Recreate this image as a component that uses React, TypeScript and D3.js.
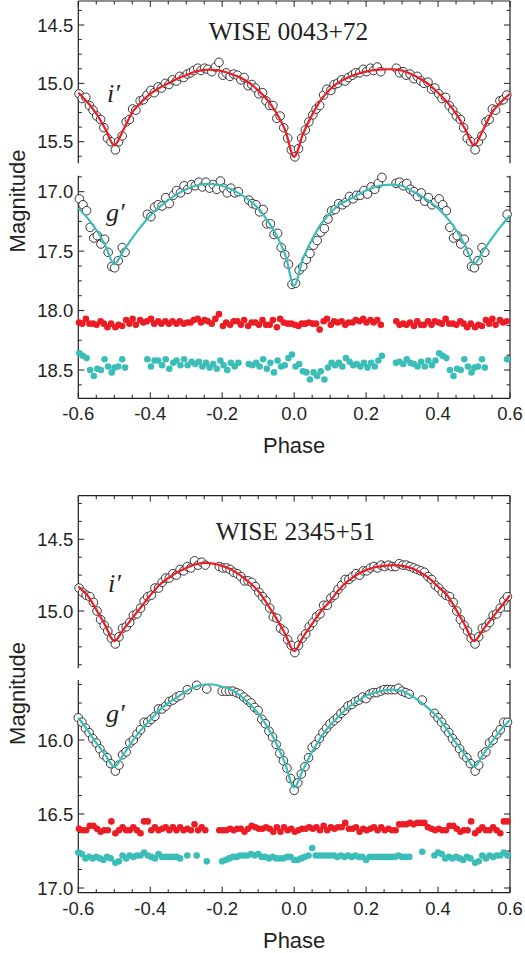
import React from 'react';
import * as d3 from 'd3';

const RED = '#ec1c24';
const TEAL = '#3bbdb8';
const INK = '#231f20';

// ---- fitted light curves, one cycle (phase -0.5 .. 0.475), repeated when drawn
const modelPhase = [-0.5, -0.475, -0.45, -0.425, -0.4, -0.375, -0.35, -0.325, -0.3, -0.275,
  -0.25, -0.225, -0.2, -0.175, -0.15, -0.125, -0.1, -0.075, -0.05, -0.025,
  0, 0.025, 0.05, 0.075, 0.1, 0.125, 0.15, 0.175, 0.2, 0.225,
  0.25, 0.275, 0.3, 0.325, 0.35, 0.375, 0.4, 0.425, 0.45, 0.475];

const fit0043_i = [15.53, 15.40, 15.25, 15.16, 15.09, 15.04, 15.00, 14.96, 14.93, 14.90,
  14.885, 14.885, 14.895, 14.92, 14.95, 14.995, 15.06, 15.14, 15.25, 15.40,
  15.63, 15.43, 15.27, 15.14, 15.05, 14.99, 14.95, 14.92, 14.90, 14.885,
  14.88, 14.88, 14.89, 14.92, 14.96, 15.01, 15.08, 15.16, 15.26, 15.39];
const fit0043_g = [17.61, 17.50, 17.39, 17.29, 17.20, 17.13, 17.07, 17.02, 16.98, 16.95,
  16.935, 16.935, 16.95, 16.98, 17.02, 17.07, 17.14, 17.24, 17.36, 17.53,
  17.79, 17.56, 17.40, 17.27, 17.18, 17.11, 17.07, 17.03, 16.99, 16.96,
  16.945, 16.94, 16.95, 16.99, 17.03, 17.08, 17.14, 17.22, 17.32, 17.45];
const fit2345_i = [15.21, 15.13, 15.05, 14.97, 14.89, 14.82, 14.77, 14.73, 14.70, 14.675,
  14.665, 14.67, 14.685, 14.71, 14.75, 14.80, 14.86, 14.95, 15.05, 15.16,
  15.28, 15.18, 15.09, 15.00, 14.93, 14.85, 14.79, 14.745, 14.715, 14.695,
  14.685, 14.68, 14.685, 14.70, 14.73, 14.77, 14.83, 14.89, 14.99, 15.10];
const fit2345_g = [16.18, 16.10, 16.01, 15.93, 15.865, 15.80, 15.75, 15.71, 15.67, 15.64,
  15.625, 15.625, 15.64, 15.66, 15.70, 15.755, 15.82, 15.91, 16.02, 16.16,
  16.32, 16.20, 16.08, 15.98, 15.90, 15.84, 15.78, 15.74, 15.70, 15.68,
  15.665, 15.66, 15.67, 15.70, 15.74, 15.79, 15.85, 15.93, 16.02, 16.10];

// ---- WISE 0043+72, i'
const ph0043_i = [-0.497, -0.488, -0.478, -0.467, -0.458, -0.449, -0.440, -0.428, -0.419, -0.409,
  -0.398, -0.389, -0.378, -0.369, -0.358, -0.348, -0.338, -0.327, -0.318, -0.307,
  -0.297, -0.288, -0.279, -0.268, -0.259, -0.249, -0.240, -0.229, -0.219, -0.209,
  -0.198, -0.189, -0.178, -0.168, -0.158, -0.148, -0.139, -0.128, -0.118, -0.108,
  -0.098, -0.088, -0.078, -0.068, -0.059, -0.048, -0.039, -0.029, -0.018, -0.008,
  0.002, 0.012, 0.021, 0.031, 0.041, 0.052, 0.061, 0.071, 0.082, 0.091,
  0.102, 0.111, 0.121, 0.132, 0.142, 0.151, 0.162, 0.171, 0.182, 0.192,
  0.201, 0.212, 0.221, 0.231, 0.241, 0.284, 0.293, 0.303, 0.312, 0.322,
  0.333, 0.342, 0.352, 0.361, 0.372, 0.382, 0.391, 0.402, 0.411, 0.421,
  0.431, 0.441, 0.451, 0.462, 0.471, 0.481, 0.491];
const mag0043_i = [15.57, 15.50, 15.45, 15.33, 15.31, 15.22, 15.23, 15.15, 15.14, 15.10,
  15.06, 15.08, 15.03, 15.04, 15.00, 15.01, 14.97, 14.98, 14.94, 14.95,
  14.92, 14.91, 14.89, 14.87, 14.89, 14.87, 14.88, 14.90, 14.86, 14.82,
  14.93, 14.91, 14.94, 14.92, 14.93, 14.97, 14.95, 15.02, 15.01, 15.04,
  15.09, 15.08, 15.15, 15.19, 15.19, 15.30, 15.28, 15.38, 15.47, 15.57,
  15.63, 15.56, 15.47, 15.40, 15.33, 15.27, 15.22, 15.19, 15.10, 15.05,
  15.06, 15.01, 15.00, 14.97, 14.98, 14.95, 14.93, 14.91, 14.91, 14.88,
  14.90, 14.87, 14.89, 14.86, 14.90, 14.87, 14.91, 14.90, 14.93, 14.92,
  14.96, 14.94, 14.98, 15.00, 14.99, 15.05, 15.04, 15.09, 15.13, 15.12,
  15.19, 15.23, 15.28, 15.31, 15.38, 15.47, 15.50];
const res0043_i = [18.14, 18.12, 18.13, 18.08, 18.11, 18.07, 18.12, 18.08, 18.10, 18.09,
  18.07, 18.11, 18.09, 18.11, 18.09, 18.11, 18.09, 18.11, 18.09, 18.11,
  18.10, 18.10, 18.08, 18.07, 18.10, 18.08, 18.09, 18.11, 18.07, 18.03,
  18.13, 18.10, 18.12, 18.09, 18.09, 18.12, 18.08, 18.13, 18.10, 18.10,
  18.12, 18.08, 18.12, 18.12, 18.08, 18.14, 18.07, 18.10, 18.11, 18.11,
  18.12, 18.13, 18.11, 18.11, 18.10, 18.11, 18.11, 18.16, 18.09, 18.07,
  18.12, 18.09, 18.10, 18.09, 18.12, 18.10, 18.10, 18.08, 18.09, 18.07,
  18.10, 18.08, 18.10, 18.08, 18.12, 18.09, 18.12, 18.11, 18.12, 18.10,
  18.13, 18.09, 18.12, 18.12, 18.09, 18.12, 18.09, 18.10, 18.11, 18.07,
  18.11, 18.11, 18.12, 18.09, 18.11, 18.14, 18.11];

// ---- WISE 0043+72, g'
const ph0043_g = [-0.499, -0.489, -0.478, -0.470, -0.408, -0.398, -0.388, -0.378, -0.367, -0.357,
  -0.347, -0.336, -0.327, -0.316, -0.306, -0.296, -0.285, -0.275, -0.265, -0.255,
  -0.245, -0.235, -0.225, -0.215, -0.205, -0.196, -0.186, -0.176, -0.165, -0.155,
  -0.126, -0.116, -0.106, -0.096, -0.086, -0.076, -0.066, -0.056, -0.046, -0.036,
  -0.026, -0.016, -0.006, 0.004, 0.014, 0.024, 0.034, 0.044, 0.054, 0.064,
  0.074, 0.084, 0.094, 0.104, 0.114, 0.124, 0.134, 0.144, 0.154, 0.164,
  0.174, 0.184, 0.194, 0.204, 0.214, 0.224, 0.234, 0.244, 0.283, 0.293,
  0.303, 0.313, 0.323, 0.333, 0.343, 0.353, 0.363, 0.373, 0.383, 0.393,
  0.403, 0.413, 0.423, 0.433, 0.443, 0.453, 0.463, 0.473, 0.483, 0.493];
const mag0043_g = [17.64, 17.58, 17.47, 17.51, 17.19, 17.21, 17.13, 17.11, 17.12, 17.05,
  17.10, 17.03, 16.99, 17.01, 16.95, 16.98, 16.94, 16.95, 16.92, 16.96,
  16.92, 16.97, 16.94, 16.98, 16.91, 16.97, 17.01, 16.97, 17.01, 17.00,
  17.07, 17.10, 17.11, 17.17, 17.15, 17.27, 17.27, 17.36, 17.35, 17.47,
  17.53, 17.61, 17.78, 17.77, 17.66, 17.63, 17.57, 17.52, 17.45, 17.41,
  17.34, 17.31, 17.23, 17.16, 17.15, 17.10, 17.11, 17.09, 17.04, 17.06,
  17.03, 17.03, 16.99, 17.02, 16.96, 16.98, 16.93, 16.88, 16.93, 16.92,
  16.95, 16.93, 16.98, 17.00, 17.04, 17.01, 17.08, 17.05, 17.11, 17.09,
  17.06, 17.11, 17.16, 17.30, 17.39, 17.37, 17.44, 17.40, 17.51, 17.63];
const res0043_g = [18.48, 18.47, 18.41, 18.48, 18.41, 18.47, 18.42, 18.42, 18.46, 18.41,
  18.49, 18.44, 18.42, 18.46, 18.41, 18.46, 18.43, 18.45, 18.43, 18.47,
  18.44, 18.48, 18.45, 18.49, 18.42, 18.46, 18.50, 18.44, 18.47, 18.44,
  18.45, 18.46, 18.44, 18.47, 18.41, 18.49, 18.44, 18.52, 18.42, 18.47,
  18.46, 18.40, 18.37, 18.47, 18.45, 18.51, 18.52, 18.58, 18.52, 18.55,
  18.51, 18.58, 18.48, 18.44, 18.46, 18.44, 18.47, 18.40, 18.43, 18.46,
  18.45, 18.47, 18.44, 18.48, 18.44, 18.47, 18.42, 18.38, 18.44, 18.43,
  18.45, 18.41, 18.44, 18.45, 18.47, 18.43, 18.47, 18.42, 18.46, 18.42,
  18.36, 18.38, 18.40, 18.50, 18.55, 18.49, 18.50, 18.41, 18.47, 18.52];

// ---- WISE 2345+51, i'
const ph2345_i = [-0.497, -0.487, -0.477, -0.467, -0.457, -0.447, -0.437, -0.427, -0.417, -0.407,
  -0.397, -0.387, -0.377, -0.367, -0.357, -0.347, -0.337, -0.327, -0.317, -0.307,
  -0.297, -0.287, -0.277, -0.267, -0.257, -0.247, -0.208, -0.198, -0.188, -0.178,
  -0.168, -0.158, -0.148, -0.138, -0.128, -0.118, -0.108, -0.098, -0.088, -0.078,
  -0.068, -0.058, -0.048, -0.038, -0.028, -0.018, -0.008, 0.002, 0.012, 0.022,
  0.032, 0.042, 0.052, 0.062, 0.072, 0.082, 0.092, 0.102, 0.112, 0.122,
  0.132, 0.142, 0.152, 0.162, 0.172, 0.182, 0.192, 0.202, 0.212, 0.222,
  0.232, 0.242, 0.252, 0.262, 0.272, 0.282, 0.292, 0.302, 0.312, 0.322,
  0.332, 0.342, 0.352, 0.362, 0.372, 0.382, 0.392, 0.402, 0.412, 0.422,
  0.432, 0.442, 0.452, 0.462, 0.472, 0.482, 0.492];
const mag2345_i = [15.23, 15.18, 15.12, 15.11, 15.08, 15.03, 15.02, 14.98, 14.93, 14.90,
  14.89, 14.84, 14.84, 14.80, 14.77, 14.77, 14.74, 14.75, 14.71, 14.72,
  14.69, 14.70, 14.65, 14.68, 14.66, 14.68, 14.69, 14.70, 14.70, 14.71,
  14.73, 14.74, 14.76, 14.79, 14.79, 14.80, 14.83, 14.87, 14.90, 14.93,
  14.98, 15.04, 15.05, 15.12, 15.14, 15.20, 15.24, 15.29, 15.24, 15.19,
  15.16, 15.11, 15.08, 15.04, 15.02, 14.96, 14.96, 14.91, 14.89, 14.85,
  14.82, 14.78, 14.78, 14.76, 14.74, 14.75, 14.72, 14.72, 14.70, 14.69,
  14.70, 14.68, 14.69, 14.68, 14.69, 14.69, 14.67, 14.68, 14.68, 14.69,
  14.70, 14.71, 14.72, 14.73, 14.76, 14.78, 14.82, 14.84, 14.87, 14.89,
  14.90, 14.94, 15.00, 15.06, 15.10, 15.14, 15.19];
const res2345_i = [16.63, 16.61, 16.59, 16.61, 16.61, 16.59, 16.61, 16.63, 16.55, 16.55,
  16.61, 16.59, 16.61, 16.60, 16.59, 16.61, 16.59, 16.61, 16.59, 16.61,
  16.60, 16.61, 16.57, 16.61, 16.59, 16.61, 16.61, 16.61, 16.61, 16.60,
  16.61, 16.60, 16.60, 16.62, 16.60, 16.58, 16.59, 16.60, 16.60, 16.59,
  16.60, 16.62, 16.59, 16.62, 16.59, 16.61, 16.60, 16.62, 16.61, 16.60,
  16.60, 16.59, 16.60, 16.59, 16.61, 16.58, 16.61, 16.59, 16.60, 16.59,
  16.59, 16.56, 16.60, 16.60, 16.59, 16.62, 16.60, 16.61, 16.60, 16.59,
  16.61, 16.59, 16.61, 16.60, 16.61, 16.61, 16.57, 16.57, 16.57, 16.56,
  16.57, 16.56, 16.56, 16.56, 16.59, 16.60, 16.61, 16.60, 16.61, 16.61,
  16.58, 16.58, 16.60, 16.62, 16.61, 16.61, 16.55];

// ---- WISE 2345+51, g'
const ph2345_g = [-0.497, -0.487, -0.477, -0.467, -0.457, -0.447, -0.437, -0.427, -0.417, -0.407,
  -0.397, -0.387, -0.377, -0.367, -0.357, -0.347, -0.337, -0.327, -0.317, -0.297,
  -0.271, -0.243, -0.200, -0.190, -0.180, -0.170, -0.160, -0.150, -0.140, -0.130,
  -0.120, -0.110, -0.100, -0.090, -0.080, -0.070, -0.060, -0.050, -0.040, -0.030,
  -0.020, -0.010, 0.000, 0.010, 0.020, 0.030, 0.040, 0.050, 0.060, 0.070,
  0.080, 0.090, 0.100, 0.110, 0.120, 0.130, 0.140, 0.150, 0.160, 0.170,
  0.180, 0.190, 0.200, 0.210, 0.220, 0.230, 0.240, 0.250, 0.260, 0.270,
  0.280, 0.290, 0.300, 0.310, 0.320, 0.356, 0.390, 0.400, 0.410, 0.420,
  0.430, 0.440, 0.450, 0.460, 0.470, 0.480, 0.490];
const mag2345_g = [16.21, 16.17, 16.10, 16.08, 16.02, 16.00, 15.96, 15.93, 15.88, 15.88,
  15.86, 15.84, 15.79, 15.79, 15.77, 15.74, 15.73, 15.71, 15.70, 15.66,
  15.63, 15.655, 15.67, 15.67, 15.67, 15.67, 15.68, 15.69, 15.71, 15.73,
  15.75, 15.78, 15.80, 15.86, 15.89, 15.94, 15.98, 16.03, 16.09, 16.14,
  16.19, 16.26, 16.34, 16.29, 16.23, 16.18, 16.12, 16.05, 16.03, 15.99,
  15.95, 15.92, 15.89, 15.87, 15.85, 15.82, 15.80, 15.77, 15.76, 15.74,
  15.73, 15.71, 15.72, 15.69, 15.68, 15.68, 15.67, 15.66, 15.66, 15.66,
  15.66, 15.65, 15.67, 15.68, 15.69, 15.73, 15.82, 15.85, 15.88, 15.92,
  15.95, 15.99, 16.02, 16.06, 16.10, 16.12, 16.16];
const res2345_g = [16.83, 16.82, 16.78, 16.80, 16.78, 16.79, 16.78, 16.78, 16.76, 16.78,
  16.79, 16.80, 16.77, 16.79, 16.79, 16.79, 16.79, 16.79, 16.80, 16.78,
  16.78, 16.82, 16.82, 16.81, 16.80, 16.79, 16.79, 16.78, 16.78, 16.78,
  16.77, 16.78, 16.77, 16.79, 16.79, 16.80, 16.79, 16.80, 16.80, 16.80,
  16.79, 16.79, 16.81, 16.81, 16.80, 16.79, 16.78, 16.73, 16.78, 16.78,
  16.78, 16.78, 16.78, 16.78, 16.79, 16.78, 16.79, 16.78, 16.79, 16.78,
  16.79, 16.79, 16.81, 16.79, 16.79, 16.79, 16.79, 16.79, 16.79, 16.79,
  16.79, 16.78, 16.79, 16.79, 16.79, 16.755, 16.78, 16.76, 16.77, 16.80,
  16.79, 16.80, 16.79, 16.80, 16.81, 16.79, 16.80];

// axis ticks
const xTicks = [-0.6, -0.4, -0.2, 0.0, 0.2, 0.4, 0.6];
const yTicks0043_i = [14.5, 15.0, 15.5];
const yTicks0043_g = [17.0, 17.5, 18.0, 18.5];
const yTicks2345_i = [14.5, 15.0];
const yTicks2345_g = [16.0, 16.5, 17.0];

const X0 = 78.3;
const X1 = 510;
const x = d3.scaleLinear().domain([-0.6, 0.6]).range([X0, X1]);

// repeat one cycle over the -0.6..0.6 window
function fold(ph: number[], mag: number[]): [number, number][] {
  const out: [number, number][] = [];
  ph.forEach((p, i) => {
    [p - 1, p, p + 1].forEach(q => {
      if (q >= -0.6005 && q <= 0.6005) out.push([q, mag[i]]);
    });
  });
  return out.sort((a, b) => a[0] - b[0]);
}

type Seg = {
  top: number; bot: number; dom: [number, number]; rng: [number, number];
  ticks: number[]; label: string; lx: number; ly: number;
  fit: number[]; color: string; ph: number[]; mag: number[];
  resid?: { ph: number[]; v: number[]; color: string }[];
};

const sans = "'Liberation Sans', Arial, sans-serif";
const serif = "'Liberation Serif', 'Times New Roman', serif";

function Segment({ s }: { s: Seg }) {
  const y = d3.scaleLinear().domain(s.dom).range(s.rng);
  const lo = y.invert(s.top);
  const hi = y.invert(s.bot);
  const minors = d3.range(Math.ceil(lo / 0.125 - 1e-6) * 0.125, hi + 1e-6, 0.125);
  const line = d3.line<[number, number]>()
    .x(d => x(d[0]))
    .y(d => y(d[1]))
    .curve(d3.curveCatmullRom.alpha(0.5));
  const obs = fold(s.ph, s.mag);
  const fitPts = fold(modelPhase, s.fit);
  return (
    <g>
      <line x1={X0} x2={X0} y1={s.top} y2={s.bot} stroke={INK} strokeWidth={1.2} />
      <line x1={X1} x2={X1} y1={s.top} y2={s.bot} stroke={INK} strokeWidth={1.2} />
      {minors.map((t, i) => {
        const major = s.ticks.some(m => Math.abs(m - t) < 1e-6);
        const len = major ? 6 : 3.5;
        return (
          <g key={i}>
            <line x1={X0} x2={X0 + len} y1={y(t)} y2={y(t)} stroke={INK} strokeWidth={1} />
            <line x1={X1} x2={X1 - len} y1={y(t)} y2={y(t)} stroke={INK} strokeWidth={1} />
          </g>
        );
      })}
      {s.ticks.map(t => (
        <text key={t} x={X0 - 5} y={y(t)} dy="0.36em" textAnchor="end"
          fontFamily={sans} fontSize={18.5} fill={INK}>{t.toFixed(1)}</text>
      ))}
      {obs.map((d, i) => (
        <circle key={i} cx={x(d[0])} cy={y(d[1])} r={4.3} fill="#fff" stroke={INK} strokeWidth={0.9} />
      ))}
      <path d={line(fitPts) ?? ''} fill="none" stroke={s.color} strokeWidth={2.2} />
      {(s.resid ?? []).map((r, k) =>
        fold(r.ph, r.v).map((d, i) => (
          <circle key={k + '-' + i} cx={x(d[0])} cy={y(d[1])} r={3.3} fill={r.color} />
        ))
      )}
      <text x={s.lx} y={s.ly} fontFamily={serif} fontStyle="italic" fontSize={26} fill={INK}>{s.label}</text>
    </g>
  );
}

type PanelCfg = { top: number; bottom: number; title: string; tx: number; ty: number;
  labelBase: number; phaseBase: number; magY: number; segs: Seg[] };

function Panel({ p }: { p: PanelCfg }) {
  const minorX = d3.range(-0.6, 0.6001, 0.05);
  return (
    <g>
      <line x1={X0} x2={X1} y1={p.top} y2={p.top} stroke={INK} strokeWidth={1.2} />
      <line x1={X0} x2={X1} y1={p.bottom} y2={p.bottom} stroke={INK} strokeWidth={1.2} />
      {minorX.map((t, i) => {
        const len = i % 4 === 0 ? 6 : 3.5;
        return (
          <g key={i}>
            <line x1={x(t)} x2={x(t)} y1={p.top} y2={p.top + len} stroke={INK} strokeWidth={1} />
            <line x1={x(t)} x2={x(t)} y1={p.bottom} y2={p.bottom - len} stroke={INK} strokeWidth={1} />
          </g>
        );
      })}
      {xTicks.map(t => (
        <text key={t} x={x(t)} y={p.labelBase} textAnchor="middle" fontFamily={sans}
          fontSize={18.5} fill={INK}>{t.toFixed(1)}</text>
      ))}
      <text x={(X0 + X1) / 2} y={p.phaseBase} textAnchor="middle" fontFamily={sans}
        fontSize={22} fill={INK}>Phase</text>
      <text transform={`translate(25,${p.magY}) rotate(-90)`} textAnchor="middle"
        fontFamily={sans} fontSize={22} fill={INK}>Magnitude</text>
      <text x={p.tx} y={p.ty} textAnchor="middle" fontFamily={serif} fontSize={25.5}
        fill={INK}>{p.title}</text>
      {p.segs.map((s, i) => <Segment key={i} s={s} />)}
    </g>
  );
}

const panels: PanelCfg[] = [
  {
    top: 1, bottom: 398.3, title: 'WISE 0043+72', tx: 288.5, ty: 39.5,
    labelBase: 420, phaseBase: 452.5, magY: 201,
    segs: [
      { top: 1, bot: 163.3, dom: [14.5, 15.5], rng: [25, 141.7], ticks: yTicks0043_i,
        label: 'i\u2032', lx: 107, ly: 101.5, fit: fit0043_i, color: RED,
        ph: ph0043_i, mag: mag0043_i },
      { top: 175.7, bot: 398.3, dom: [17.0, 18.5], rng: [191.7, 370], ticks: yTicks0043_g,
        label: 'g\u2032', lx: 106, ly: 220.5, fit: fit0043_g, color: TEAL,
        ph: ph0043_g, mag: mag0043_g,
        resid: [{ ph: ph0043_i, v: res0043_i, color: RED }, { ph: ph0043_g, v: res0043_g, color: TEAL }] },
    ],
  },
  {
    top: 495.7, bottom: 892.7, title: 'WISE 2345+51', tx: 295.5, ty: 540,
    labelBase: 915, phaseBase: 948, magY: 693.5,
    segs: [
      { top: 495.7, bot: 668.3, dom: [14.5, 15.0], rng: [539.3, 611], ticks: yTicks2345_i,
        label: 'i\u2032', lx: 108, ly: 591.5, fit: fit2345_i, color: RED,
        ph: ph2345_i, mag: mag2345_i },
      { top: 680, bot: 892.7, dom: [16.0, 17.0], rng: [740, 888], ticks: yTicks2345_g,
        label: 'g\u2032', lx: 106, ly: 721.5, fit: fit2345_g, color: TEAL,
        ph: ph2345_g, mag: mag2345_g,
        resid: [{ ph: ph2345_i, v: res2345_i, color: RED }, { ph: ph2345_g, v: res2345_g, color: TEAL }] },
    ],
  },
];

export default function App() {
  return (
    <svg width={525} height={953} viewBox="0 0 525 953"
      style={{ position: 'absolute', left: 0, top: 0, background: '#fff' }}>
      <rect width={525} height={953} fill="#fff" />
      {panels.map((p, i) => <Panel key={i} p={p} />)}
    </svg>
  );
}
